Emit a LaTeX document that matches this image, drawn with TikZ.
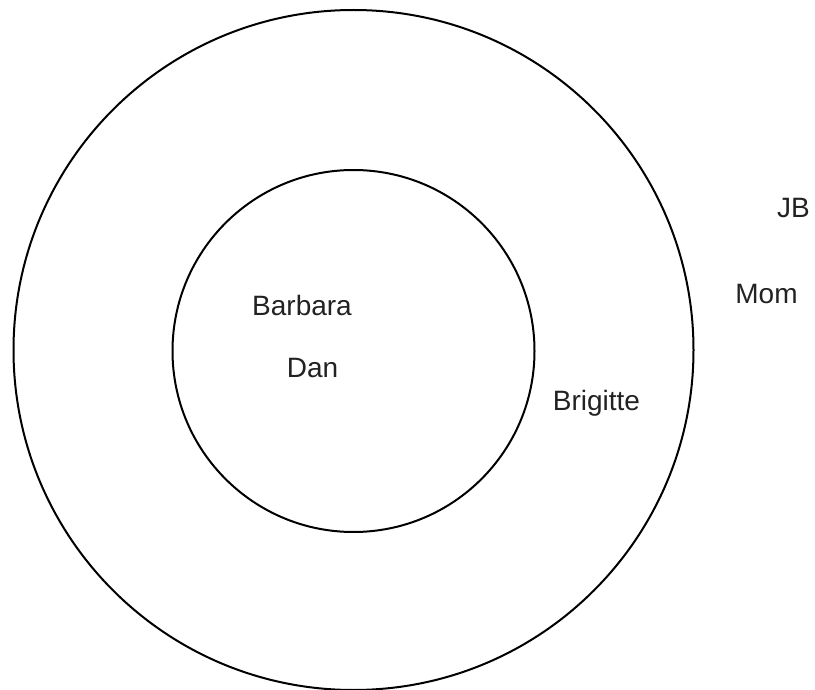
\documentclass[tikz,border=0pt]{standalone}
\usepackage{fontspec}
\setmainfont{Liberation Sans}
\usepackage{xcolor}
\usepackage{tikz}
\usetikzlibrary{positioning}
\definecolor{TextDark}{HTML}{222222}

\begin{document}
\begin{tikzpicture}[x=1pt,y=-1pt,
    every node/.style={font=\fontsize{28}{32}\selectfont, text=TextDark},
    ring/.style={draw=black, line width=2pt, circle, inner sep=0pt},
    person/.style={anchor=base, inner sep=0pt}]
  \useasboundingbox (0,0) rectangle (815,690);
  % the two rings
  \node[ring, minimum size=680pt] (outer) at (353.5,350) {};
  \node[ring, minimum size=362pt] (inner) at (353.5,351) {};
  % names
  \node[person] (barbara) at (302,316) {Barbara};
  \node[person] (dan) at (312.5,377) {Dan};
  \node[person] (brigitte) at (596.5,410) {Brigitte};
  \node[person] (mom) at (766.5,303) {Mom};
  \node[person] (jb) at (793.5,218) {JB};
\end{tikzpicture}
\end{document}
